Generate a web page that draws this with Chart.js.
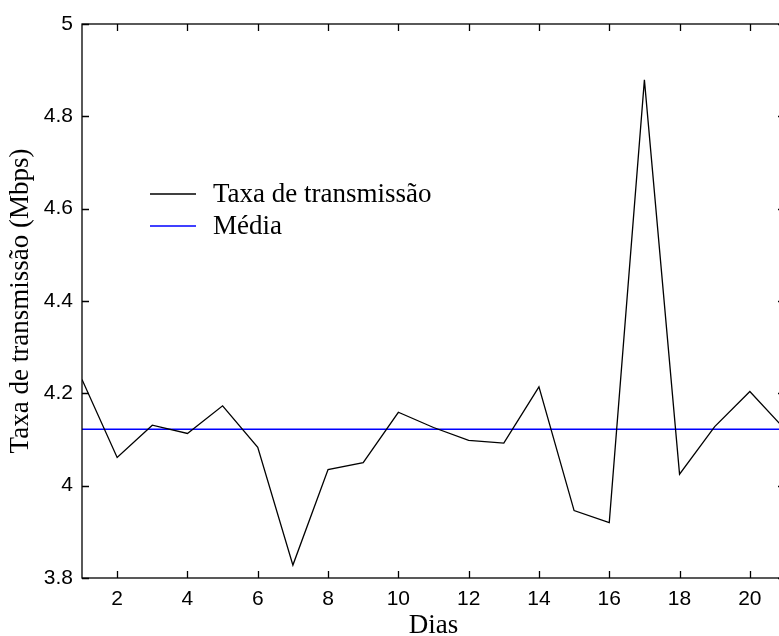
<!DOCTYPE html>
<html>
<head>
<meta charset="utf-8">
<script src="https://cdn.jsdelivr.net/npm/chart.js@4.4.1/dist/chart.umd.min.js"></script>
<style>
  html, body { margin: 0; padding: 0; background: #fff; overflow: hidden; }
  #wrap { width: 779px; height: 636px; overflow: hidden; position: relative; }
  #chart { display: block; }
</style>
</head>
<body>
<div id="wrap"><canvas id="chart" width="790" height="650"></canvas></div>
<script>
'use strict';

// dias 1..21
const days = [1, 2, 3, 4, 5, 6, 7, 8, 9, 10, 11, 12, 13, 14, 15, 16, 17, 18, 19, 20, 21];
// taxa de transmissão (Mbps)
const rates = [4.23, 4.061, 4.131, 4.113, 4.173, 4.083, 3.828, 4.035, 4.05, 4.159, 4.126,
               4.098, 4.092, 4.214, 3.946, 3.92, 4.879, 4.025, 4.128, 4.204, 4.122];
const meanRate = 4.122;
const xTicks = [2, 4, 6, 8, 10, 12, 14, 16, 18, 20];
const yTicks = [3.8, 4, 4.2, 4.4, 4.6, 4.8, 5];

const SERIF = "'Liberation Serif', 'Times New Roman', serif";
const SANS = "'Liberation Sans', Arial, sans-serif";

// moldura + ticks para dentro (estilo MATLAB) e legenda dentro do gráfico
const FramePlugin = {
  id: 'frame',
  afterDraw(chart) {
    const { ctx, chartArea: a, scales } = chart;
    const len = 7;
    ctx.save();
    ctx.strokeStyle = '#000';
    ctx.lineWidth = 1.3;
    ctx.strokeRect(a.left, a.top, a.right - a.left, a.bottom - a.top);
    ctx.beginPath();
    xTicks.forEach((v) => {
      const px = Math.round(scales.x.getPixelForValue(v)) + 0.5;
      ctx.moveTo(px, a.bottom); ctx.lineTo(px, a.bottom - len);
      ctx.moveTo(px, a.top); ctx.lineTo(px, a.top + len);
    });
    yTicks.forEach((v) => {
      const py = Math.round(scales.y.getPixelForValue(v)) + 0.5;
      ctx.moveTo(a.left, py); ctx.lineTo(a.left + len, py);
      ctx.moveTo(a.right, py); ctx.lineTo(a.right - len, py);
    });
    ctx.stroke();

    // legenda
    ctx.font = `27px ${SERIF}`;
    ctx.textBaseline = 'middle';
    ctx.textAlign = 'left';
    chart.data.datasets.forEach((ds, i) => {
      const y = 194 + i * 32;
      ctx.strokeStyle = ds.borderColor;
      ctx.lineWidth = 1.3;
      ctx.beginPath();
      ctx.moveTo(150, y); ctx.lineTo(196, y);
      ctx.stroke();
      ctx.fillStyle = '#000';
      ctx.fillText(ds.label, 213, y + 1);
    });
    ctx.restore();
  }
};

const ratePoints = days.map((d, i) => ({ x: d, y: rates[i] }));
const meanPoints = days.map((d) => ({ x: d, y: meanRate }));

new Chart(document.getElementById('chart'), {
  type: 'line',
  data: {
    datasets: [
      { label: 'Taxa de transmissão', data: ratePoints, borderColor: '#000', borderWidth: 1.3,
        pointRadius: 0, tension: 0 },
      { label: 'Média', data: meanPoints, borderColor: '#0000ff', borderWidth: 1.5,
        pointRadius: 0, tension: 0 }
    ]
  },
  options: {
    responsive: false,
    animation: false,
    events: [],
    layout: { padding: { top: 24, right: 5, left: 0, bottom: 0 } },
    plugins: { legend: { display: false }, tooltip: { enabled: false } },
    scales: {
      x: {
        type: 'linear', min: 1, max: 21,
        afterBuildTicks: (s) => { s.ticks = xTicks.map((v) => ({ value: v })); },
        afterFit: (s) => { s.height = 72; },
        grid: { display: false, drawTicks: false },
        border: { display: false },
        ticks: { color: '#000', padding: 9, font: { family: SANS, size: 21 }, maxRotation: 0,
                 callback: (v) => String(v) },
        title: { display: true, text: 'Dias', color: '#000', padding: { top: 0, bottom: 8 },
                 font: { family: SERIF, size: 27 } }
      },
      y: {
        type: 'linear', min: 3.8, max: 5,
        afterBuildTicks: (s) => { s.ticks = yTicks.map((v) => ({ value: v })); },
        afterFit: (s) => { s.width = 82; },
        grid: { display: false, drawTicks: false },
        border: { display: false },
        ticks: { color: '#000', padding: 9, font: { family: SANS, size: 21 },
                 callback: (v) => String(+v.toFixed(1)) },
        title: { display: true, text: 'Taxa de transmissão (Mbps)', color: '#000',
                 padding: { top: 5, bottom: 0 }, font: { family: SERIF, size: 27 } }
      }
    }
  },
  plugins: [FramePlugin]
});
</script>
</body>
</html>
